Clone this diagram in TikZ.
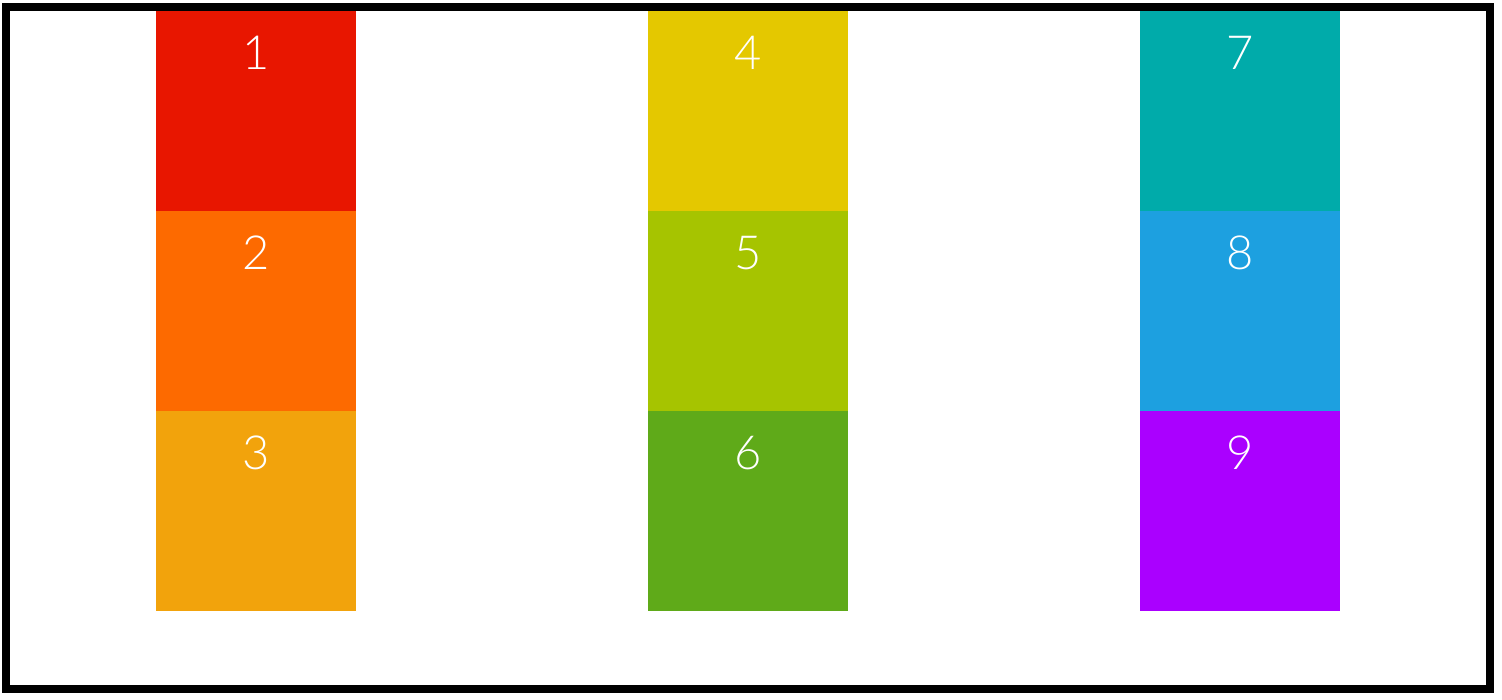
\documentclass[tikz,border=0pt]{standalone}
\usepackage{fontspec}
\IfFontExistsTF{Lato Light}{\newfontfamily\numfont{Lato Light}}{\newfontfamily\numfont{Lato}}
\definecolor{c1}{HTML}{E81600}
\definecolor{c2}{HTML}{FD6A00}
\definecolor{c3}{HTML}{F2A30C}
\definecolor{c4}{HTML}{E4C800}
\definecolor{c5}{HTML}{A6C400}
\definecolor{c6}{HTML}{5FAA19}
\definecolor{c7}{HTML}{00ABAA}
\definecolor{c8}{HTML}{1DA0E0}
\definecolor{c9}{HTML}{AA00FF}
\begin{document}
\begin{tikzpicture}[x=1pt,y=-1pt,
  cell/.style={rectangle,inner sep=0pt,outer sep=0pt,minimum width=200pt,minimum height=200pt,anchor=north west},
  num/.style={anchor=base,text=white,font=\numfont\fontsize{47}{47}\selectfont,inner sep=0pt}]
\useasboundingbox (0,0) rectangle (1502,699);
\fill[white] (0,0) rectangle (1502,699);
\foreach \c/\x/\y/\n in {c1/156/11/1,c2/156/211/2,c3/156/411/3,c4/648/11/4,c5/648/211/5,c6/648/411/6,c7/1140/11/7,c8/1140/211/8,c9/1140/411/9}{
  \node[cell,fill=\c] (b\n) at (\x,\y) {};
  \node[num] (t\n) at ([yshift=-58pt]b\n.north) {\n};
}
\node[draw=black,line width=8pt,inner sep=0pt,outer sep=0pt,minimum width=1484pt,minimum height=682pt,anchor=north west] (frame) at (6,7) {};
\end{tikzpicture}
\end{document}
